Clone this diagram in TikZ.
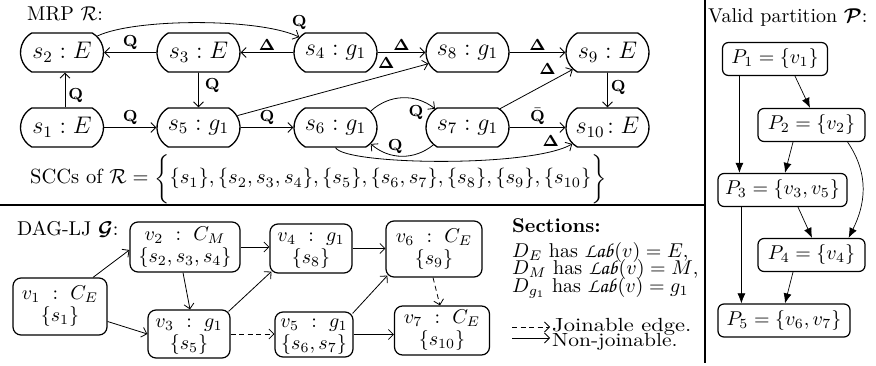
\documentclass[tikz,border=0pt]{standalone}
\usepackage{amsmath}
\usepackage{bm}
\usepackage{graphicx}
\usetikzlibrary{arrows.meta,shapes.misc}
\DeclareMathAlphabet{\mathpzc}{OT1}{pzc}{m}{it}
\newcommand{\LabFn}{\mathpzc{Lab}}
% all text is set at its design size and enlarged twofold
\newcommand{\T}[1]{\scalebox{2}{#1}}
\newcommand{\lQ}{\T{$\mathbf{Q}$}}
\newcommand{\lQb}{\T{$\bar{\mathbf{Q}}$}}
\newcommand{\lD}{\T{$\mathbf{\Delta}$}}
\newcommand{\two}[2]{\T{\begin{tabular}{@{}c@{}}#1\\#2\end{tabular}}}

\begin{document}
\begin{tikzpicture}[x=1pt,y=1pt,
  mrp/.style={rounded rectangle, rounded rectangle arc length=120, draw,
    line width=1.3pt, minimum width=83pt, minimum height=39pt, inner sep=0pt,
    font=\fontsize{12}{14}\selectfont},
  dag/.style={draw, rounded corners=8pt, line width=1.2pt, align=center,
    inner sep=0pt, font=\fontsize{10}{11}\selectfont},
  part/.style={draw, rounded corners=6pt, line width=1.2pt, minimum height=33pt,
    inner sep=0pt, font=\fontsize{10}{12}\selectfont},
  txt/.style={inner sep=0pt, font=\fontsize{10}{12}\selectfont},
  lab/.style={inner sep=2pt, font=\fontsize{8}{9}\selectfont},
  arr/.style={-{Straight Barb[length=5pt,width=10pt]}, line width=0.8pt},
  jarr/.style={arr, dash pattern=on 5pt off 3.5pt},
  parr/.style={-{Latex[length=10pt,width=8pt]}, line width=0.7pt},
  sep/.style={line width=2pt}
]
\useasboundingbox (0,0) rectangle (876,-366);

% panel separators
\draw[sep] (0,-205) -- (705,-205);
\draw[sep] (705,0) -- (705,-363);

% ---------------- MRP ----------------
\node[txt, anchor=base west] (mrplabel) at (27,-21) {\T{MRP $\mathcal{R}$:}};

\node[mrp] (s2)  at (62,-52.5)    {\T{$s_2 : E$}};
\node[mrp] (s3)  at (198.5,-52.5) {\T{$s_3 : E$}};
\node[mrp] (s4)  at (335.5,-52.5) {\T{$s_4 : g_1$}};
\node[mrp] (s8)  at (467.5,-52.5) {\T{$s_8 : g_1$}};
\node[mrp] (s9)  at (607.5,-52.5) {\T{$s_9 : E$}};
\node[mrp] (s1)  at (62,-127.5)   {\T{$s_1 : E$}};
\node[mrp] (s5)  at (198.5,-127.5){\T{$s_5 : g_1$}};
\node[mrp] (s6)  at (335.5,-127.5){\T{$s_6 : g_1$}};
\node[mrp] (s7)  at (467.5,-127.5){\T{$s_7 : g_1$}};
\node[mrp] (s10) at (607.5,-127.5){\T{$s_{10}\!: E$}};

\draw[arr] (s3) -- node[lab, above] {\lQ} (s2);
\draw[arr] (s4) -- node[lab, above] {\lD} (s3);
\draw[arr] ([xshift=3pt]s1.north) -- node[lab, pos=0.35, right=1pt] {\lQ} ([xshift=3pt]s2.south);
\draw[arr] (s3) -- node[lab, pos=0.375, right=4pt] {\lQ} (s5);
\draw[arr] (s1) -- node[lab, above] {\lQ} (s5);
\draw[arr] (s5) -- node[lab, above] {\lQ} (s6);
\draw[arr] (s5.17) -- node[lab, pos=0.78, above=4pt] {\lD} (s8.196);
\draw[arr] (s2.25) .. controls (135,-18) and (260,-18) .. node[lab, pos=1, above=5pt] {\lQ} (s4.157);
\draw[arr] (s4) -- node[lab, above] {\lD} (s8);
\draw[arr] (s8) -- node[lab, above] {\lD} (s9);
\draw[arr] (s7.30) -- node[lab, pos=0.8, above left=0pt] {\lD} (s9.206);
\draw[arr] (s9) -- node[lab, pos=0.42, right=1pt] {\lQ} (s10);
\draw[arr] (s7) -- node[lab, above] {\lQb} (s10);
\draw[arr] (s6.25) to[bend left=40] node[lab, pos=0.7, below=4pt] {\lQ} (s7.150);
\draw[arr] (s7.207) to[bend left=40] node[lab, pos=0.6, above=0pt] {\lQ} (s6.335);
\draw[arr] (s6.south) .. controls (345,-165) and (530,-168) .. node[lab, pos=0.93, above left=0pt] {\lD} (s10.205);

\node[txt, anchor=base west] (scc) at (30,-184)
  {\scalebox{2.05}{SCCs of $\mathcal{R} = \bigg\{\{s_1\},\{s_2,s_3,s_4\},\{s_5\},\{s_6,s_7\},\{s_8\},\{s_9\},\{s_{10}\}\bigg\}$}};

% ---------------- DAG-LJ ----------------
\node[txt, anchor=base west] (daglabel) at (17,-236) {\T{DAG-LJ $\bm{\mathcal{G}}$:}};

\node[dag, minimum width=94pt, minimum height=57pt] (v1) at (60,-306.5) {\two{$v_1\ :\ C_E$}{$\{s_1\}$}};
\node[dag, minimum width=110pt, minimum height=50pt] (v2) at (185,-247) {\two{$v_2\ :\ C_M$}{$\{s_2,s_3,s_4\}$}};
\node[dag, minimum width=82pt, minimum height=48pt] (v3) at (189,-334) {\two{$v_3\ :\ g_1$}{$\{s_5\}$}};
\node[dag, minimum width=82pt, minimum height=49pt] (v4) at (311,-248.5) {\two{$v_4\ :\ g_1$}{$\{s_8\}$}};
\node[dag, minimum width=78pt, minimum height=45pt] (v5) at (314,-334.5) {\two{$v_5\ :\ g_1$}{$\{s_6,s_7\}$}};
\node[dag, minimum width=96pt, minimum height=56pt] (v6) at (434,-249) {\two{$v_6\ :\ C_E$}{$\{s_9\}$}};
\node[dag, minimum width=95pt, minimum height=49pt] (v7) at (442,-330.5) {\two{$v_7\ :\ C_E$}{$\{s_{10}\}$}};

\draw[arr] ([xshift=33pt]v1.north) -- ([yshift=-3pt]v2.west);
\draw[arr] ([yshift=-15pt]v1.east) -- (v3.west);
\draw[arr] ([xshift=-2pt]v2.south) -- ([xshift=1pt]v3.north);
\draw[arr] (v2.east) -- (v4.west |- v2.east);
\draw[arr] ([shift={(-2pt,-2pt)}]v3.north east) -- ([shift={(2pt,2pt)}]v4.south west);
\draw[jarr] (v3.east) -- (v5.west |- v3.east);
\draw[arr] (v4.east) -- (v6.west |- v4.east);
\draw[arr] ([shift={(-1pt,-2pt)}]v5.north east) -- ([shift={(2pt,2pt)}]v6.south west);
\draw[arr] (v5.east) -- (v7.west |- v5.east);
\draw[jarr] ([xshift=-1pt]v6.south) -- ([xshift=-2pt]v7.north);

% sections and legend
\node[txt, anchor=base west] (sectitle) at (512,-233) {\T{\textbf{Sections:}}};
\node[txt, anchor=base west] (secE) at (512,-257.7) {\T{$D_E$ has $\LabFn(v) = E$,}};
\node[txt, anchor=base west] (secM) at (512,-275) {\T{$D_M$ has $\LabFn(v) = M$,}};
\node[txt, anchor=base west] (secG) at (512,-292.3) {\T{$D_{g_1}$ has $\LabFn(v) = g_1$}};

\coordinate (jstart) at (512,-327);
\coordinate (jend) at (550,-327);
\coordinate (nstart) at (512,-338);
\coordinate (nend) at (550,-338);
\draw[jarr] (jstart) -- (jend);
\draw[arr] (nstart) -- (nend);
\node[txt, anchor=base west] (jtext) at (552,-331) {\scalebox{2.25}[1.9]{Joinable edge.}};
\node[txt, anchor=base west] (ntext) at (552,-346.5) {\scalebox{2.15}[1.9]{Non-joinable.}};

% ---------------- partition ----------------
\node[txt, anchor=base west] (plabel) at (708,-23) {\T{Valid partition $\bm{\mathcal{P}}$:}};

\node[part, minimum width=105pt] (P1) at (775,-59)     {\T{$P_1 = \{v_1\}$}};
\node[part, minimum width=107pt] (P2) at (811.5,-125)  {\T{$P_2 = \{v_2\}$}};
\node[part, minimum width=129pt] (P3) at (782.5,-190)  {\T{$P_3 = \{v_3, v_5\}$}};
\node[part, minimum width=107pt] (P4) at (811.5,-255)  {\T{$P_4 = \{v_4\}$}};
\node[part, minimum width=132pt] (P5) at (784,-320.5)  {\T{$P_5 = \{v_6, v_7\}$}};

\draw[parr] ([xshift=17.5pt]P1.south west) -- ([xshift=22pt]P3.north west);
\draw[parr] ([xshift=20pt]P1.south) -- ([xshift=-1.5pt]P2.north);
\draw[parr] ([xshift=-18.5pt]P2.south) -- ([xshift=2.5pt]P3.north);
\draw[parr] ([xshift=-18pt]P2.south east) .. controls (870,-175) and (865,-205) .. ([xshift=-17pt]P4.north east);
\draw[parr] ([xshift=15.5pt]P3.south) -- ([xshift=0.5pt]P4.north);
\draw[parr] ([xshift=24pt]P3.south west) -- ([xshift=24pt]P5.north west);
\draw[parr] ([xshift=-18.5pt]P4.south) -- ([xshift=1pt]P5.north);
\end{tikzpicture}
\end{document}
